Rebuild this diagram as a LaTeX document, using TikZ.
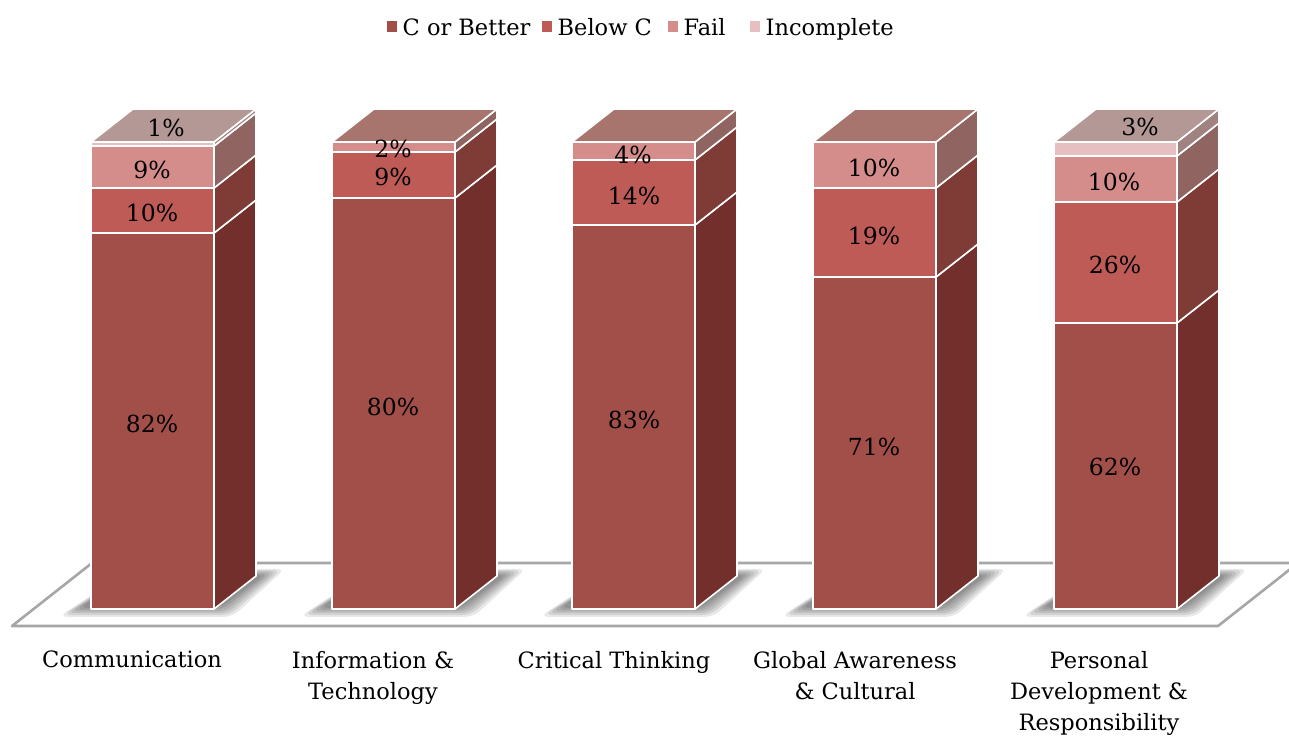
\documentclass[tikz,border=0pt]{standalone}
\usepackage{fontspec}
\setmainfont{DejaVu Serif}
\usepackage{tikz}
\usetikzlibrary{positioning}

\definecolor{cbetter}{HTML}{A34F49}
\definecolor{cbetterside}{HTML}{722F2C}
\definecolor{below}{HTML}{BE5B57}
\definecolor{belowside}{HTML}{7F3B35}
\definecolor{fail}{HTML}{D48D8B}
\definecolor{failside}{HTML}{8F6461}
\definecolor{failtop}{HTML}{A8746E}
\definecolor{incompl}{HTML}{E6BFC0}
\definecolor{incomplside}{HTML}{A08380}
\definecolor{incompltop}{HTML}{B39896}
\definecolor{floorgray}{HTML}{A6A6A6}

% one block of a bar: left x, top y, bottom y, front colour, side colour
\newcommand{\seg}[5]{%
  \filldraw[face,fill=#4] (#1,#3) rectangle (#1+123,#2);
  \filldraw[face,fill=#5] (#1+123,#3) -- ++(42,-33) -- ++(0,#2-#3) -- (#1+123,#2) -- cycle;}
% top face of a bar
\newcommand{\lid}[3]{%
  \filldraw[face,fill=#3] (#1,#2) -- ++(42,-33) -- ++(123,0) -- ++(-42,33) -- cycle;}
% soft shadow under a bar
\newcommand{\barshadow}[1]{%
  \foreach \r in {24,20,...,4}{%
    \fill[black,opacity=.09,rounded corners=8pt] (#1-8-\r,606+\r*.45) -- (#1+127+\r*.6,606+\r*.45)
      -- (#1+170+\r,576-\r*.3) -- (#1+40,576-\r*.3) -- cycle;}}

\begin{document}
\begin{tikzpicture}[x=1pt,y=-1pt,
    face/.style={draw=white,line width=1.6pt,line join=round},
    floor/.style={draw=floorgray,line width=2.6pt},
    pct/.style={inner sep=0pt,font=\fontsize{23.5}{28}\selectfont},
    cat/.style={inner sep=0pt,anchor=north,align=center,font=\fontsize{22.5}{31}\selectfont},
    key/.style={inner sep=0pt,minimum size=10.5pt},
    keytext/.style={inner sep=0pt,text height=19pt,text depth=0pt,font=\fontsize{22.5}{26}\selectfont},
    node distance=5pt]
\useasboundingbox (0,0) rectangle (1289,738);

% floor
\begin{scope}
\clip (0,0) rectangle (1289,738);
\draw[floor,line join=round] (12,626) -- (1218,626) -- (1298,563) -- (92,563) -- cycle;
\end{scope}

\barshadow{91}
\barshadow{332}
\barshadow{572}
\barshadow{813}
\barshadow{1054}

% Communication
\seg{91}{233}{609}{cbetter}{cbetterside}
\seg{91}{188}{233}{below}{belowside}
\seg{91}{146}{188}{fail}{failside}
\seg{91}{142}{146}{incompl}{incomplside}
\lid{91}{142}{incompltop}
% Information & Technology
\seg{332}{198}{609}{cbetter}{cbetterside}
\seg{332}{152}{198}{below}{belowside}
\seg{332}{142}{152}{fail}{failside}
\lid{332}{142}{failtop}
% Critical Thinking
\seg{572}{225}{609}{cbetter}{cbetterside}
\seg{572}{160}{225}{below}{belowside}
\seg{572}{142}{160}{fail}{failside}
\lid{572}{142}{failtop}
% Global Awareness
\seg{813}{277}{609}{cbetter}{cbetterside}
\seg{813}{188}{277}{below}{belowside}
\seg{813}{142}{188}{fail}{failside}
\lid{813}{142}{failtop}
% Personal Development
\seg{1054}{323}{609}{cbetter}{cbetterside}
\seg{1054}{202}{323}{below}{belowside}
\seg{1054}{156}{202}{fail}{failside}
\seg{1054}{142}{156}{incompl}{incomplside}
\lid{1054}{142}{incompltop}

% values
\node[pct] (v14) at (166,128) {1\%};
\node[pct] (v13) at (152,170) {9\%};
\node[pct] (v12) at (152,213) {10\%};
\node[pct] (v11) at (152,424) {82\%};
\node[pct] (v23) at (393,149) {2\%};
\node[pct] (v22) at (393,177) {9\%};
\node[pct] (v21) at (393,407) {80\%};
\node[pct] (v33) at (633,155) {4\%};
\node[pct] (v32) at (634,196) {14\%};
\node[pct] (v31) at (634,420) {83\%};
\node[pct] (v43) at (874,168) {10\%};
\node[pct] (v42) at (874,236) {19\%};
\node[pct] (v41) at (874,447) {71\%};
\node[pct] (v54) at (1140,127) {3\%};
\node[pct] (v53) at (1114,182) {10\%};
\node[pct] (v52) at (1115,265) {26\%};
\node[pct] (v51) at (1115,467) {62\%};

% categories
\node[cat] (cat1) at (132,651) {Communication};
\node[cat] (cat2) at (373,651) {Information \&\\Technology};
\node[cat] (cat3) at (614,651) {Critical Thinking};
\node[cat] (cat4) at (855,651) {Global Awareness\\\& Cultural};
\node[cat] (cat5) at (1099,651) {Personal\\Development \&\\Responsibility};

% legend
\node[key,fill=cbetter] (k1) at (392,26.5) {};
\node[keytext,right=of k1] (t1) {C or Better};
\node[key,fill=below] (k2) at (547,26.5) {};
\node[keytext,right=of k2] (t2) {Below C};
\node[key,fill=fail] (k3) at (673,26.5) {};
\node[keytext,right=of k3] (t3) {Fail};
\node[key,fill=incompl] (k4) at (755,26.5) {};
\node[keytext,right=of k4] (t4) {Incomplete};
\end{tikzpicture}
\end{document}
